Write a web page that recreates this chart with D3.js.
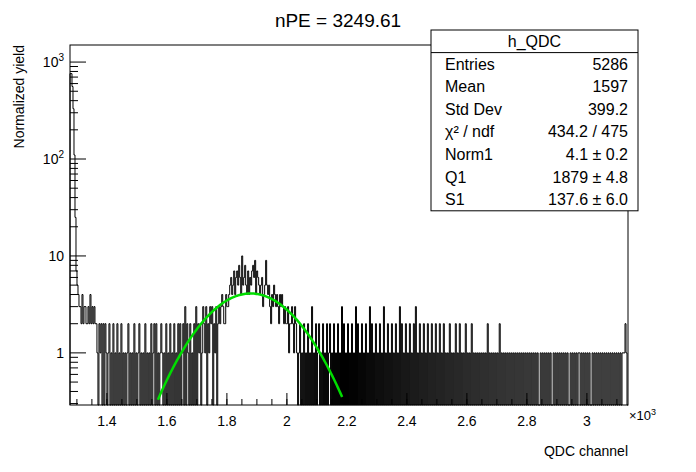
<!DOCTYPE html>
<html><head><meta charset="utf-8">
<script src="https://cdn.jsdelivr.net/npm/d3@7"></script>
<style>body{margin:0;background:#fff}text{font-family:"Liberation Sans",Arial,sans-serif}</style>
</head><body>
<svg id="c" width="696" height="472"></svg>
<script>
// spike at low channels, then per-bin counts (digits, 'a' = 10)
var spikeCounts = [760, 760, 560, 330, 110, 25, 7, 5, 4, 3];
var binDigits = [
  "32423322324232322102120202101201020102010201010120",
  "10102010120101020101020120201012101020102010201020",
  "20120302102010203021201321302132302130232343224334",
  "564574675864a5685474657869476545634595453243543432",
  "43432322312232132101201020102010301020120102010201",
  "20102010201030201020102010302010201020103020102010",
  "20103010201020102010302010201020102030102010201020",
  "10201020102010201010201010201020101020101020101010",
  "10101010201010101010201010101010101010101010101010",
  "10101010100101010101010010101010101010100101010101",
  "1010101010100101010101010101010101010101010111210"
];
var xDomain = [1.277, 3.137];   // x10^3 channels
var yDomain = [0.29, 1500];
var fitPar = { norm: 4.1, mean: 1.879, sigma: 0.1376, from: 1.57, to: 2.184 };
var statsRows = [
  ["Entries", "5286"], ["Mean", "1597"], ["Std Dev", "399.2"],
  ["\u03c7\u00b2 / ndf", "434.2 / 475"], ["Norm1", "4.1 \u00b1 0.2"],
  ["Q1", "1879 \u00b1 4.8"], ["S1", "137.6 \u00b1 6.0"]
];
var xTicks = [1.4, 1.6, 1.8, 2, 2.2, 2.4, 2.6, 2.8, 3];

var counts = spikeCounts.concat(binDigits.join("").split("").map(function(c) {
  return c === "a" ? 10 : +c;
}));

var L = 70, R = 628, T = 45, B = 405;
var svg = d3.select("#c");
var x = d3.scaleLinear().domain(xDomain).range([L, R]);
var y = d3.scaleLog().domain(yDomain).range([B, T]);
var bw = (xDomain[1] - xDomain[0]) / counts.length;

// histogram outline, zero bins drop to the frame bottom
var pts = [];
counts.forEach(function(v, i) {
  var yy = v > 0 ? y(v) : B;
  pts.push([x(xDomain[0] + i * bw), yy], [x(xDomain[0] + (i + 1) * bw), yy]);
});
svg.append("path").attr("d", "M" + L + "," + B + "L" + pts.join("L") + "L" + R + "," + B)
  .attr("fill", "none").attr("stroke", "#000").attr("stroke-width", 1);

// fit
var fx = d3.range(fitPar.from, fitPar.to, 0.004).concat([fitPar.to]);
svg.append("path")
  .attr("d", d3.line()(fx.map(function(v) {
    var z = (v - fitPar.mean) / fitPar.sigma;
    return [x(v), y(fitPar.norm * Math.exp(-0.5 * z * z))];
  })))
  .attr("fill", "none").attr("stroke", "#00dd00").attr("stroke-width", 2.5);

// frame
svg.append("rect").attr("x", L).attr("y", T).attr("width", R - L).attr("height", B - T)
  .attr("fill", "none").attr("stroke", "#000");

// x axis
var xMinor = d3.range(1.3, 3.13, 0.05);
svg.selectAll(".xm").data(xMinor).enter().append("line")
  .attr("x1", x).attr("x2", x).attr("y1", B).attr("y2", B - 6).attr("stroke", "#000");
svg.selectAll(".xM").data(xTicks).enter().append("line")
  .attr("x1", x).attr("x2", x).attr("y1", B).attr("y2", B - 12).attr("stroke", "#000");
svg.selectAll(".xl").data(xTicks).enter().append("text")
  .attr("x", x).attr("y", B + 21).attr("text-anchor", "middle").attr("font-size", 14)
  .text(function(d) { return d; });
var ex = svg.append("text").attr("x", R + 1).attr("y", B + 15).attr("font-size", 13);
ex.append("tspan").text("\u00d710");
ex.append("tspan").attr("dy", -5).attr("font-size", 9).text("3");
svg.append("text").attr("x", R).attr("y", B + 51).attr("text-anchor", "end")
  .attr("font-size", 14).text("QDC channel");

// y axis (log)
var yMinor = [];
[0.1, 1, 10, 100, 1000].forEach(function(d) {
  for (var k = 2; k <= 9; k++) if (d * k >= yDomain[0] && d * k <= yDomain[1]) yMinor.push(d * k);
});
svg.selectAll(".ym").data(yMinor).enter().append("line")
  .attr("x1", L).attr("x2", L + 8).attr("y1", y).attr("y2", y).attr("stroke", "#000");
var yMajor = [1, 10, 100, 1000];
svg.selectAll(".yM").data(yMajor).enter().append("line")
  .attr("x1", L).attr("x2", L + 16).attr("y1", y).attr("y2", y).attr("stroke", "#000");
yMajor.forEach(function(d) {
  var t = svg.append("text").attr("x", L - 6).attr("y", y(d) + 5)
    .attr("text-anchor", "end").attr("font-size", 14);
  if (d < 100) t.text(d);
  else { t.text("10"); t.append("tspan").attr("dy", -6).attr("font-size", 10).text(Math.log10(d)); }
});
svg.append("text").attr("transform", "translate(24," + T + ") rotate(-90)")
  .attr("text-anchor", "end").attr("font-size", 14).text("Normalized yield");

// title
svg.append("text").attr("x", 338).attr("y", 27).attr("text-anchor", "middle")
  .attr("font-size", 19).text("nPE = 3249.61");

// stats box
var sx = 431, sy = 30, sw = 207, rh = 22.6;
svg.append("rect").attr("x", sx).attr("y", sy).attr("width", sw).attr("height", rh * 8)
  .attr("fill", "#fff").attr("stroke", "#000");
svg.append("line").attr("x1", sx).attr("x2", sx + sw).attr("y1", sy + rh).attr("y2", sy + rh)
  .attr("stroke", "#000");
svg.append("text").attr("x", sx + sw / 2).attr("y", sy + 17).attr("text-anchor", "middle")
  .attr("font-size", 16).text("h_QDC");
statsRows.forEach(function(r, i) {
  var yy = sy + rh * (i + 1) + 17;
  svg.append("text").attr("x", sx + 14).attr("y", yy).attr("font-size", 16).text(r[0]);
  svg.append("text").attr("x", sx + sw - 10).attr("y", yy).attr("text-anchor", "end")
    .attr("font-size", 16).text(r[1]);
});
</script>
</body></html>
